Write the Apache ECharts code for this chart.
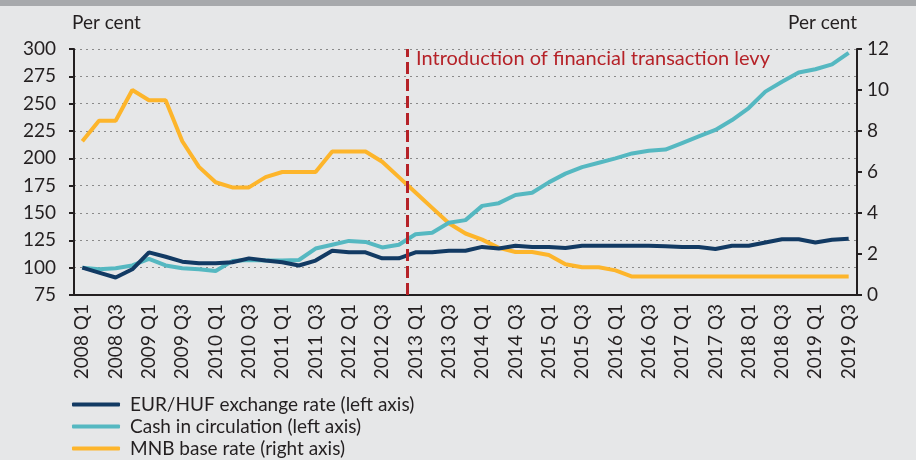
<!DOCTYPE html>
<html>
<head>
<meta charset="utf-8">
<script src="https://cdn.jsdelivr.net/npm/echarts@6/dist/echarts.min.js"></script>
<style>
  html, body { margin: 0; padding: 0; background: #e6e7e8; }
  #topband { height: 6px; background: #a7a9ac; }
  #main { width: 916px; height: 454px; }
</style>
</head>
<body>
<div id="topband"></div>
<div id="main"></div>
<script>
// quarterly categories
const quarters = [
  "2008 Q1","2008 Q2","2008 Q3","2008 Q4","2009 Q1","2009 Q2","2009 Q3","2009 Q4",
  "2010 Q1","2010 Q2","2010 Q3","2010 Q4","2011 Q1","2011 Q2","2011 Q3","2011 Q4",
  "2012 Q1","2012 Q2","2012 Q3","2012 Q4","2013 Q1","2013 Q2","2013 Q3","2013 Q4",
  "2014 Q1","2014 Q2","2014 Q3","2014 Q4","2015 Q1","2015 Q2","2015 Q3","2015 Q4",
  "2016 Q1","2016 Q2","2016 Q3","2016 Q4","2017 Q1","2017 Q2","2017 Q3","2017 Q4",
  "2018 Q1","2018 Q2","2018 Q3","2018 Q4","2019 Q1","2019 Q2","2019 Q3"
];

// left axis (2008 Q1 = 100)
const eurHuf = [
  100, 95.5, 91, 98.5, 114, 110, 105.5, 104, 104, 105, 108.5, 106.5,
  105, 102, 106.5, 115.5, 114, 114, 108.5, 108.5, 114, 114, 115.5, 115.5,
  119, 117.5, 120, 119, 119, 118, 120, 120, 120, 120, 120, 119.5,
  119, 119, 117, 120, 120, 123, 126, 126, 123, 125.5, 126.5
];
const cash = [
  100, 98.5, 99.5, 102, 108, 102, 99.5, 98.5, 97, 106, 107, 106.5,
  106.5, 107, 117.5, 121, 124.5, 123.5, 118.5, 121, 130.5, 132, 141, 143.5,
  156.5, 159, 166.5, 168.5, 178, 186, 192, 196, 200, 204.5, 207, 208,
  214, 220, 226, 235, 246, 261, 270, 278.5, 281.5, 286, 296.5
];
// right axis, per cent
const baseRate = [
  7.5, 8.5, 8.5, 10, 9.5, 9.5, 7.5, 6.25, 5.5, 5.25, 5.25, 5.75,
  6, 6, 6, 7, 7, 7, 6.5, 5.75, 5, 4.25, 3.5, 3,
  2.7, 2.3, 2.1, 2.1, 1.95, 1.5, 1.35, 1.35, 1.2, 0.9, 0.9, 0.9,
  0.9, 0.9, 0.9, 0.9, 0.9, 0.9, 0.9, 0.9, 0.9, 0.9, 0.9
];
const levyStart = 20; // boundary before 2013 Q1

const textColor = "#231f20";
const font = "Lato";

let chart = echarts.init(document.getElementById("main"));
chart.setOption({
  backgroundColor: "#e6e7e8",
  textStyle: { fontFamily: font, color: textColor },
  grid: { left: 74, right: 59, top: 43, bottom: 165 },
  legend: {
    orient: "vertical",
    left: 72,
    top: 389,
    padding: 0,
    itemWidth: 48,
    itemHeight: 4,
    itemGap: 3,
    icon: "roundRect",
    data: ["EUR/HUF exchange rate (left axis)", "Cash in circulation (left axis)", "MNB base rate (right axis)"],
    textStyle: { fontFamily: font, fontSize: 19, color: textColor, padding: [0, 0, 0, 5], lineHeight: 19 }
  },
  graphic: [{
    type: "text",
    left: 416,
    top: 43,
    style: { text: "Introduction of financial transaction levy", fill: "#b52228", font: "20px " + font }
  }],
  xAxis: [{
    type: "category",
    data: quarters,
    boundaryGap: true,
    axisLine: { lineStyle: { color: textColor, width: 2 } },
    axisTick: { interval: 0, length: 5, lineStyle: { color: textColor, width: 2 } },
    axisLabel: { interval: 1, rotate: 90, fontSize: 19, color: textColor, margin: 9, fontFamily: font }
  }, {
    type: "value",
    min: 0,
    max: quarters.length,
    show: false
  }],
  yAxis: [{
    type: "value",
    min: 75, max: 300, interval: 25,
    name: "Per cent",
    nameLocation: "end",
    nameGap: 17,
    nameTextStyle: { align: "left", fontSize: 19, color: textColor, padding: [0, 0, 0, -2] },
    axisLine: { show: true, lineStyle: { color: textColor, width: 2 } },
    axisTick: { show: true, length: 5, lineStyle: { color: textColor, width: 2 } },
    axisLabel: { fontSize: 19, color: textColor, margin: 18 },
    splitLine: { lineStyle: { color: "#8a8a8a", type: [2, 4], width: 1.2 } }
  }, {
    type: "value",
    min: 0, max: 12, interval: 2,
    name: "Per cent",
    nameLocation: "end",
    nameGap: 17,
    nameTextStyle: { align: "right", fontSize: 19, color: textColor },
    axisLine: { show: true, lineStyle: { color: textColor, width: 2 } },
    axisTick: { show: true, length: 5, lineStyle: { color: textColor, width: 2 } },
    axisLabel: { fontSize: 19, color: textColor, margin: 10 },
    splitLine: { show: false }
  }],
  series: [
    {
      name: "EUR/HUF exchange rate (left axis)",
      type: "line", data: eurHuf, yAxisIndex: 0, z: 4,
      symbol: "none", lineStyle: { color: "#123a63", width: 4 }, itemStyle: { color: "#123a63" }
    },
    {
      name: "Cash in circulation (left axis)",
      type: "line", data: cash, yAxisIndex: 0, z: 3,
      symbol: "none", lineStyle: { color: "#55b8c1", width: 4 }, itemStyle: { color: "#55b8c1" }
    },
    {
      name: "MNB base rate (right axis)",
      type: "line", data: baseRate, yAxisIndex: 1, z: 2,
      symbol: "none", lineStyle: { color: "#fdb52b", width: 4 }, itemStyle: { color: "#fdb52b" }
    },
    {
      type: "line", xAxisIndex: 1, yAxisIndex: 0, data: [], z: 5,
      markLine: {
        silent: true,
        symbol: "none",
        label: { show: false },
        lineStyle: { color: "#b52228", width: 3, type: [12, 5] },
        data: [{ xAxis: levyStart }]
      }
    }
  ]
});
</script>
</body>
</html>
